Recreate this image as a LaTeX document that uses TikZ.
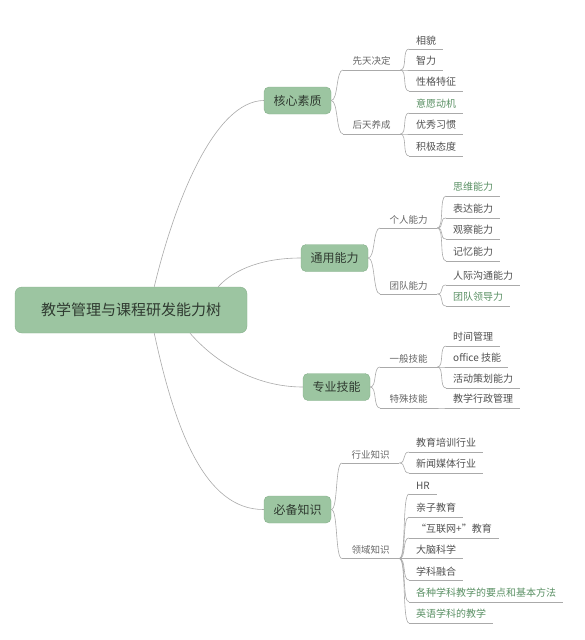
\documentclass[tikz,border=0pt]{standalone}
\usepackage{fontspec}
\newfontfamily\cjk{Noto Sans CJK SC}
\usetikzlibrary{calc}
\definecolor{boxg}{HTML}{9CC5A1}
\definecolor{boxd}{HTML}{86B08B}
\definecolor{linec}{HTML}{AAAAAA}
\definecolor{txtd}{HTML}{2F3A30}
\definecolor{midt}{HTML}{666666}
\definecolor{leaft}{HTML}{505050}
\definecolor{leafg}{HTML}{5A9064}
\begin{document}
\begin{tikzpicture}[x=1pt,y=-1pt,
 root/.style={draw=boxd, fill=boxg, rounded corners=7pt, minimum width=232pt, minimum height=46pt, font=\cjk\fontsize{15}{18}\selectfont, text=txtd, inner sep=0pt},
 branch/.style={draw=boxd, fill=boxg, rounded corners=5pt, minimum width=67pt, minimum height=27pt, font=\cjk\fontsize{12}{14}\selectfont, text=txtd, inner sep=0pt},
 mid/.style={anchor=south west, minimum width=57pt, inner xsep=0pt, inner ysep=4pt, font=\cjk\fontsize{9.5}{11}\selectfont, text=midt},
 leaf/.style={anchor=south west, inner xsep=7pt, inner ysep=4pt, font=\cjk\fontsize{10}{12}\selectfont, text=leaft},
 gleaf/.style={leaf, text=leafg},
 conn/.style={draw=linec, line width=0.6pt},
 br/.style={conn, to path={.. controls ($(\tikztostart)+(7,0)$) and ($(\tikztotarget)+(-7,0)$) .. (\tikztotarget)}},
]
\path[use as bounding box] (0,0) rectangle (585,640);

% root and branches
\node[root] (root) at (131,310) {教学管理与课程研发能力树};
\node[branch] (c1) at (297.5,100.5) {核心素质};
\node[branch] (c2) at (334.5,258) {通用能力};
\node[branch] (c3) at (336.5,387) {专业技能};
\node[branch] (c4) at (297.5,509.5) {必备知识};

% level 2
\node[mid] (n11) at (343,70) {先天决定};
\node[mid] (n12) at (343,134) {后天养成};
\node[mid] (n21) at (380,228) {个人能力};
\node[mid] (n22) at (380,294) {团队能力};
\node[mid] (n31) at (380,367) {一般技能};
\node[mid] (n32) at (380,408) {特殊技能};
\node[mid] (n41) at (342,463) {行业知识};
\node[mid] (n42) at (342,558.5) {领域知识};

% leaves
\node[leaf]  (l111) at (409,49)  {相貌};
\node[leaf]  (l112) at (409,70)  {智力};
\node[leaf]  (l113) at (409,91)  {性格特征};
\node[gleaf] (l121) at (409,113) {意愿动机};
\node[leaf]  (l122) at (409,134) {优秀习惯};
\node[leaf]  (l123) at (409,156) {积极态度};

\node[gleaf] (l211) at (446,196) {思维能力};
\node[leaf]  (l212) at (446,218) {表达能力};
\node[leaf]  (l213) at (446,239) {观察能力};
\node[leaf]  (l214) at (446,261) {记忆能力};
\node[leaf]  (l221) at (446,285) {人际沟通能力};
\node[gleaf] (l222) at (446,306) {团队领导力};

\node[leaf]  (l311) at (446,346) {时间管理};
\node[leaf]  (l312) at (446,367) {office 技能};
\node[leaf]  (l313) at (446,388) {活动策划能力};
\node[leaf]  (l321) at (446,408) {教学行政管理};

\node[leaf]  (l411) at (409,452) {教育培训行业};
\node[leaf]  (l412) at (409,473) {新闻媒体行业};
\node[leaf]  (l421) at (409,494) {HR};
\node[leaf]  (l422) at (409,517) {亲子教育};
\node[leaf]  (l423) at (409,538) {“互联网+”教育};
\node[leaf]  (l424) at (409,558.5) {大脑科学};
\node[leaf]  (l425) at (409,580) {学科融合};
\node[gleaf] (l426) at (409,602) {各种学科教学的要点和基本方法};
\node[gleaf] (l427) at (409,623) {英语学科的教学};

% underlines
\foreach \n in {n11,n12,n21,n22,n31,n32,n41,n42,
  l111,l112,l113,l121,l122,l123,l211,l212,l213,l214,l221,l222,
  l311,l312,l313,l321,l411,l412,l421,l422,l423,l424,l425,l426,l427}
  \draw[conn] (\n.south west) -- (\n.south east);

% root to branches
\draw[conn] ($(root.north west)!0.6!(root.north east)$) .. controls (175,200) and (215,101) .. (c1.west);
\draw[conn] ($(root.north west)!0.875!(root.north east)$) .. controls (235,268) and (265,258) .. (c2.west);
\draw[conn] ($(root.south west)!0.754!(root.south east)$) .. controls (215,362) and (255,387) .. (c3.west);
\draw[conn] ($(root.south west)!0.6!(root.south east)$) .. controls (175,430) and (205,510) .. (c4.west);

% branches to level 2
\draw[br] (c1.east) to (n11.south west);
\draw[br] (c1.east) to (n12.south west);
\draw[br] (c2.east) to (n21.south west);
\draw[br] (c2.east) to (n22.south west);
\draw[br] (c3.east) to (n31.south west);
\draw[br] (c3.east) to (n32.south west);
\draw[br] (c4.east) to (n41.south west);
\draw[br] (c4.east) to (n42.south west);

% level 2 to leaves
\foreach \p/\c in {n11/l111,n11/l112,n11/l113,n12/l121,n12/l122,n12/l123,
  n21/l211,n21/l212,n21/l213,n21/l214,n22/l221,n22/l222,
  n31/l311,n31/l312,n31/l313,n32/l321,
  n41/l411,n41/l412,n42/l421,n42/l422,n42/l423,n42/l424,n42/l425,n42/l426,n42/l427}
  \draw[br] (\p.south east) to (\c.south west);
\end{tikzpicture}
\end{document}
